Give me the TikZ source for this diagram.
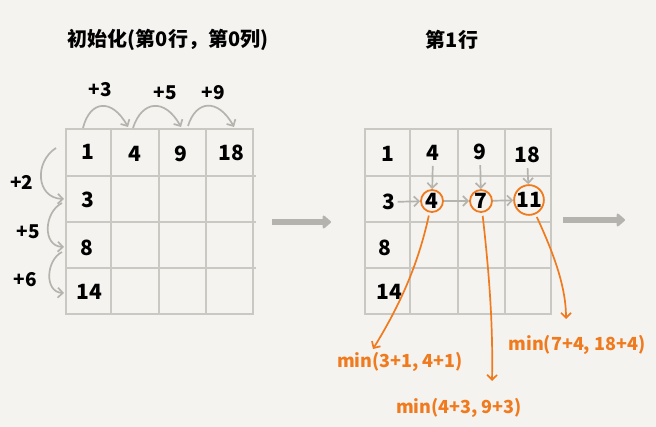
\documentclass[tikz,border=0pt]{standalone}
\usepackage{fontspec}
\setmainfont{Noto Sans CJK SC}
\usetikzlibrary{arrows.meta}
\definecolor{bg}{HTML}{F4F3EF}
\definecolor{gridgray}{HTML}{C9C8C3}
\definecolor{arrgray}{HTML}{B4B3AD}
\definecolor{org}{HTML}{F07A1E}
\begin{document}
\begin{tikzpicture}[x=1pt,y=-1pt,>={Straight Barb[length=5pt,width=10pt]},
    num/.style={font=\fontsize{21}{21}\selectfont\bfseries, inner sep=2pt},
    plus/.style={font=\fontsize{19}{19}\selectfont\bfseries},
    title/.style={font=\fontsize{20}{20}\selectfont\bfseries},
    gridline/.style={draw=gridgray, line width=1.3pt},
    garrow/.style={draw=arrgray, line width=1.7pt, ->},
    bigarrow/.style={draw=arrgray, line width=6pt, -{Triangle[length=9pt,width=15pt,round]}},
    ocirc/.style={circle, draw=org, line width=1.8pt, minimum size=22pt, inner sep=0pt, font=\fontsize{21}{21}\selectfont\bfseries},
    oarrow/.style={draw=org, line width=1.7pt, ->},
    otext/.style={text=org, font=\fontsize{18}{18}\selectfont\bfseries}]
\fill[bg] (0,0) rectangle (656,427);
\useasboundingbox (0,0) rectangle (656,427);

\node[title] (T1) at (168,40) {初始化(第0行，第0列)};
\node[title] (T2) at (452,40) {第1行};

% left grid
\draw[gridline] (66,129) rectangle (253,314);
\draw[gridline] (111,129)--(111,314) (159,129)--(159,314) (206,129)--(206,314);
\draw[gridline] (66,176)--(256,176) (66,222)--(256,222) (66,268)--(256,268);

\node[num] (L00) at (88,152) {1};
\node[num] (L01) at (135,154) {4};
\node[num] (L02) at (181,154) {9};
\node[num] (L03) at (231,153) {18};
\node[num] (L10) at (88,200) {3};
\node[num] (L20) at (87,248) {8};
\node[num] (L30) at (89,292) {14};

\coordinate (a0) at (83,128);
\coordinate (a1) at (128,127);
\coordinate (a2) at (133,128);
\coordinate (a3) at (181,127);
\coordinate (a4) at (188,126);
\coordinate (a5) at (234,127);
\draw[garrow] (a0) .. controls (90,100) and (112,98) .. (a1);
\draw[garrow] (a2) .. controls (142,100) and (165,98) .. (a3);
\draw[garrow] (a4) .. controls (196,100) and (218,98) .. (a5);
\node[plus] (P3) at (100,90) {+3};
\node[plus] (P5) at (165,93) {+5};
\node[plus] (P9) at (213,93) {+9};

\coordinate (b0) at (56,148);
\coordinate (b1) at (64,199);
\coordinate (b2) at (62,203);
\coordinate (b3) at (64,247);
\coordinate (b4) at (62,252);
\coordinate (b5) at (64,293);
\draw[garrow] (b0) .. controls (34,162) and (36,198) .. (b1);
\draw[garrow] (b2) .. controls (44,212) and (42,246) .. (b3);
\draw[garrow] (b4) .. controls (46,260) and (44,292) .. (b5);
\node[plus] (P2) at (22,182) {+2};
\node[plus] (Q5) at (28,232) {+5};
\node[plus] (P6) at (25,280) {+6};

\coordinate (ba1) at (272,222);
\coordinate (ba2) at (331,222);
\draw[bigarrow] (ba1)--(ba2);

% right grid
\draw[gridline] (365,129) rectangle (551,314);
\draw[gridline] (410,129)--(410,314) (458,129)--(458,314) (505,129)--(505,314);
\draw[gridline] (365,176)--(551,176) (365,222)--(551,222) (365,268)--(551,268);

\node[num] (R00) at (388,154) {1};
\node[num] (R01) at (433,153) {4};
\node[num] (R02) at (480,152) {9};
\node[num] (R03) at (527,155) {18};
\node[num] (R10) at (389,202) {3};
\node[num] (R20) at (385,248) {8};
\node[num] (R30) at (389,292) {14};

\node[ocirc] (C4) at (432,201) {4};
\node[ocirc] (C7) at (481,201) {7};
\node[ocirc, minimum size=26pt] (C11) at (529,200) {11};

\draw[garrow, shorten <=3pt](R01)--(C4);
\draw[garrow, shorten <=3pt](R02)--(C7);
\draw[garrow, shorten <=3pt](R03)--(C11);
\draw[garrow](R10)--(C4);
\draw[garrow](C4)--(C7);
\draw[garrow](C7)--(C11);

\coordinate (bb1) at (563,220);
\coordinate (bb2) at (625,220);
\draw[bigarrow] (bb1)--(bb2);

\coordinate (E1) at (373,349);
\coordinate (E2) at (492,381);
\coordinate (E3) at (566,319);
\draw[oarrow, shorten <=3pt] (C4) .. controls (418,265) and (400,305) .. (E1);
\draw[oarrow, shorten <=3pt] (C7) .. controls (490,280) and (493,330) .. (E2);
\draw[oarrow, shorten <=3pt] (C11) .. controls (552,250) and (566,285) .. (E3);
\node[otext] (M1) at (400,362) {min(3+1, 4+1)};
\node[otext] (M2) at (459,408) {min(4+3, 9+3)};
\node[otext] (M3) at (577,345) {min(7+4, 18+4)};

\end{tikzpicture}
\end{document}
